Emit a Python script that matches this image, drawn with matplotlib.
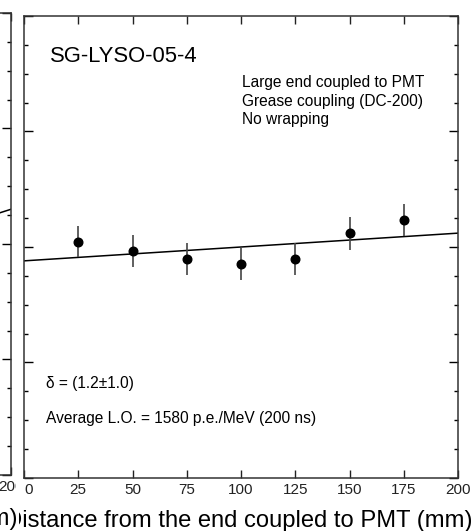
import numpy as np
import matplotlib
matplotlib.use("Agg")
import matplotlib.pyplot as plt
from matplotlib.ticker import MultipleLocator
from matplotlib.patches import Rectangle

plt.rcParams['font.family'] = ['Liberation Sans', 'DejaVu Sans']

# ---- data (normalised light output along the crystal) ----
pos_mm   = [25, 50, 75, 100, 125, 150, 175]
rel_lo   = [1.0046, 0.9968, 0.9894, 0.9853, 0.9894, 1.0119, 1.0234]
rel_err  = [0.0135, 0.0140, 0.0140, 0.0140, 0.0137, 0.0145, 0.0140]
delta    = 0.012          # fitted uniformity slope, 1.2 %
x_mid    = 100.0

# partial neighbour panel (only its right edge shows)
left_fit_x = [0, 200]
left_fit_y = [0.91, 1.03]

x_ticks = [0, 25, 50, 75, 100, 125, 150, 175, 200]
xlab = "Distance from the end coupled to PMT (mm)"

W, H = 475, 531
fig = plt.figure(figsize=(W / 100, H / 100), dpi=100)


def style_axes(ax):
    ax.set_xlim(0, 200)
    ax.set_ylim(0.8, 1.2)
    ax.set_xticks(x_ticks)
    ax.yaxis.set_major_locator(MultipleLocator(0.1))
    ax.yaxis.set_minor_locator(MultipleLocator(0.025))
    ax.tick_params(axis='x', which='major', direction='in', length=6, width=1,
                   top=True, bottom=True, labelsize=11, pad=3.9, colors='#222222')
    ax.tick_params(axis='y', which='major', direction='in', length=6.5, width=1,
                   left=True, right=True, labelleft=False)
    ax.tick_params(axis='y', which='minor', direction='in', length=3.2, width=1,
                   left=True, right=True)
    for sp in ax.spines.values():
        sp.set_linewidth(1.1)
        sp.set_color('#333333')


# ---- main panel ----
ax = fig.add_axes([24 / W, 53 / H, 434 / W, 462 / H])
style_axes(ax)
ax.get_xticklabels()[0].set_ha('left')

xs = np.array([0.0, 200.0])
ax.plot(xs, 1 + delta * (xs / x_mid - 1), color='black', lw=1.1, zorder=2)
ax.errorbar(pos_mm, rel_lo, yerr=rel_err, fmt='o', color='black', ecolor='#444444',
            elinewidth=1.2, capsize=0, markersize=6.2, zorder=3)

ax.text(12, 1.160, "SG-LYSO-05-4", fontsize=15.8, va='baseline', ha='left')
ax.text(100.3, 1.1384, "Large end coupled to PMT", fontsize=11.2, va='baseline')
ax.text(100.3, 1.1225, "Grease coupling (DC-200)", fontsize=11.2, va='baseline')
ax.text(100.3, 1.1066, "No wrapping", fontsize=11.2, va='baseline')
ax.text(10.1, 0.878, "δ = (1.2±1.0)", fontsize=11.2, va='baseline')
ax.text(10.1, 0.8479, "Average L.O. = 1580 p.e./MeV (200 ns)", fontsize=11.2, va='baseline')

ax.set_xlabel(xlab, fontsize=17.1, va='baseline')
ax.xaxis.set_label_coords(0.494, -49 / 462)

# ---- neighbouring panel, cut off by the figure edge ----
axl = fig.add_axes([(10.7 - 434) / W, 56 / H, 434 / W, 462 / H])
style_axes(axl)
axl.set_zorder(2)
axl.plot(left_fit_x, left_fit_y, color='black', lw=1.1)
axl.set_xlabel(xlab, fontsize=17.1, va='baseline', ha='right',
               bbox=dict(facecolor='white', edgecolor='none', pad=1.5))
axl.xaxis.set_label_coords((17 + 434 - 10.7) / 434, -50 / 462)

# the two panels were pasted side by side; the right one hides the last digit
fig.patches.append(Rectangle((16.0 / W, (H - 500) / H), 7.5 / W, 19 / H,
                             transform=fig.transFigure, facecolor='white',
                             edgecolor='none', zorder=3))

fig.savefig("out.png", dpi=100)
